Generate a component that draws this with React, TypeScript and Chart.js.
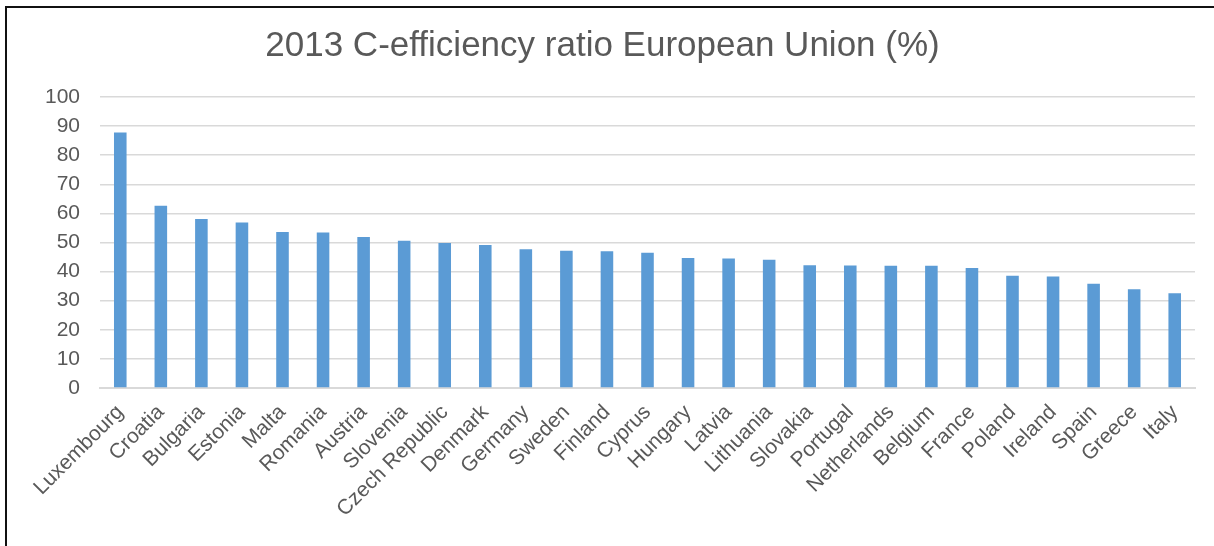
import React, { useEffect, useRef } from "react";
import { Chart, registerables } from "chart.js";

Chart.register(...registerables);

const TITLE = "2013 C-efficiency ratio European Union (%)";

const countries = [
  "Luxembourg", "Croatia", "Bulgaria", "Estonia", "Malta", "Romania", "Austria",
  "Slovenia", "Czech Republic", "Denmark", "Germany", "Sweden", "Finland", "Cyprus",
  "Hungary", "Latvia", "Lithuania", "Slovakia", "Portugal", "Netherlands", "Belgium",
  "France", "Poland", "Ireland", "Spain", "Greece", "Italy",
];

const ratios = [
  87.8, 62.6, 58.1, 56.9, 53.6, 53.4, 51.9,
  50.6, 49.8, 49.1, 47.7, 47.2, 47.0, 46.5,
  44.7, 44.5, 44.1, 42.2, 42.1, 42.0, 42.0,
  41.2, 38.6, 38.3, 35.8, 33.9, 32.6,
];

const yMin = 0;
const yMax = 100;
const yStep = 10;

const FONT = "'Liberation Sans', Arial, sans-serif";

export default function App() {
  const ref = useRef<HTMLCanvasElement | null>(null);

  useEffect(() => {
    document.body.style.margin = "0";
    if (!ref.current) return;
    const chart = new Chart(ref.current, {
      type: "bar",
      data: {
        labels: countries,
        datasets: [
          {
            label: "C-efficiency",
            data: ratios,
            backgroundColor: "#5b9bd5",
            borderWidth: 0,
            barPercentage: 0.62,
            categoryPercentage: 0.5,
          },
        ],
      },
      options: {
        animation: false,
        responsive: false,
        maintainAspectRatio: false,
        layout: { padding: { left: 10, right: 19, top: 0, bottom: 0 } },
        plugins: {
          legend: { display: false },
          tooltip: { enabled: false },
          title: {
            display: true,
            text: TITLE,
            color: "#595959",
            font: { family: FONT, size: 35, weight: "normal" },
            padding: { top: 25, bottom: 30 },
          },
        },
        scales: {
          x: {
            grid: { display: false, drawTicks: false },
            border: { display: true, color: "#d9d9d9", width: 2 },
            ticks: {
              color: "#595959",
              font: { family: FONT, size: 21 },
              minRotation: 45,
              maxRotation: 45,
              autoSkip: false,
              padding: 12,
            },
            afterFit: (scale: any) => {
              scale.height = 546 - 388;
            },
          },
          y: {
            min: yMin,
            max: yMax,
            grid: { color: "#d9d9d9", lineWidth: 1.5, drawTicks: false },
            border: { display: false },
            ticks: {
              stepSize: yStep,
              color: "#595959",
              font: { family: FONT, size: 21 },
              padding: 20,
            },
            afterFit: (scale: any) => {
              scale.width = 90;
            },
          },
        },
      },
    });
    return () => chart.destroy();
  }, []);

  return (
    <div style={{ position: "relative", width: 1214, height: 546, background: "#fff" }}>
      <canvas ref={ref} width={1214} height={546} style={{ display: "block" }} />
      <div
        style={{
          position: "absolute",
          left: 5,
          top: 6,
          right: 0,
          bottom: 0,
          borderTop: "2px solid #111",
          borderLeft: "2px solid #111",
          pointerEvents: "none",
        }}
      />
    </div>
  );
}
